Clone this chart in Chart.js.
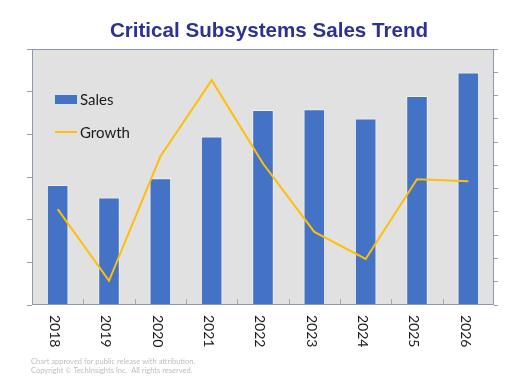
<!DOCTYPE html>
<html>
<head>
<meta charset="utf-8">
<script src="https://cdn.jsdelivr.net/npm/chart.js@4.4.1/dist/chart.umd.min.js"></script>
<style>
html,body{margin:0;padding:0;background:#fff;}
#wrap{width:520px;height:387px;position:relative;}
</style>
</head>
<body>
<div id="wrap"><canvas id="c" width="520" height="387"></canvas></div>
<script>
const categories = ['2018','2019','2020','2021','2022','2023','2024','2025','2026'];
const sales = [2.81, 2.52, 2.97, 3.95, 4.57, 4.59, 4.37, 4.90, 5.45];
const growth = [5.6, -9.8, 16.9, 33.3, 15.4, 0.7, -5.1, 12.0, 11.6];
const salesTicks = [0, 1, 2, 3, 4, 5, 6];
const growthTicks = [-15, -10, -5, 0, 5, 10, 15, 20, 25, 30, 35, 40];
const titleText = 'Critical Subsystems Sales Trend';
const footerLines = ['Chart approved for public release with attribution.', 'Copyright \u00A9 TechInsights Inc.  All rights reserved.'];

const BAR = '#4472C4', LINE = '#FFBE0A';

const deco = {
  id: 'deco',
  beforeDraw(chart) {
    const {ctx, chartArea: a} = chart;
    ctx.save();
    ctx.fillStyle = '#E1E1E1';
    ctx.fillRect(a.left, a.top, a.right - a.left, a.bottom - a.top);
    ctx.restore();
  },
  afterDatasetsDraw(chart) {
    const {ctx, chartArea: a, scales} = chart;
    const x = scales.x;
    ctx.save();
    ctx.strokeStyle = '#A8A8A8';
    ctx.lineWidth = 1;
    for (let i = 0; i < categories.length - 1; i++) {
      const px = Math.round((x.getPixelForValue(i) + x.getPixelForValue(i + 1)) / 2) + 0.5;
      ctx.beginPath(); ctx.moveTo(px, a.bottom - 6); ctx.lineTo(px, a.bottom); ctx.stroke();
    }
    ctx.strokeStyle = '#8D98AE';
    ctx.strokeRect(Math.round(a.left) + 0.5, Math.round(a.top) + 0.5, Math.round(a.right - a.left) - 1, Math.round(a.bottom - a.top) - 1);
    ctx.fillStyle = '#1A1A1A';
    ctx.font = '14px Lato';
    ctx.textAlign = 'left';
    ctx.textBaseline = 'middle';
    categories.forEach((c, i) => {
      const px = x.getPixelForValue(i) - 3;
      ctx.save();
      ctx.translate(px, a.bottom + 10);
      ctx.rotate(Math.PI / 2);
      ctx.fillText(c, 0, 0);
      ctx.restore();
    });
    const ds = chart.data.datasets;
    ctx.font = '15px Lato';
    ctx.fillStyle = BAR;
    ctx.fillRect(55, 95, 22, 9);
    ctx.fillStyle = '#1A1A1A';
    ctx.fillText(ds[1].label, 80, 100);
    ctx.strokeStyle = LINE; ctx.lineWidth = 2;
    ctx.beginPath(); ctx.moveTo(55, 132); ctx.lineTo(77, 132); ctx.stroke();
    ctx.fillStyle = '#1A1A1A';
    ctx.fillText(ds[0].label, 80, 133);
    ctx.font = 'bold 20.6px "Liberation Sans", Arial';
    ctx.fillStyle = '#2E3192';
    ctx.textAlign = 'center';
    ctx.fillText(titleText, 269, 31);
    ctx.font = '7.5px Lato';
    ctx.fillStyle = '#BDBDBD';
    ctx.textAlign = 'left';
    ctx.fillText(footerLines[0], 31, 362);
    ctx.fillText(footerLines[1], 31, 371);
    ctx.restore();
  }
};

new Chart(document.getElementById('c'), {
  data: {
    labels: categories,
    datasets: [
      {type: 'line', label: 'Growth', data: growth, yAxisID: 'y2', borderColor: LINE, borderWidth: 2, pointRadius: 0, tension: 0, order: 0},
      {type: 'bar', label: 'Sales', data: sales, yAxisID: 'y', backgroundColor: BAR, borderColor: '#F2F2F2', borderWidth: 1, barPercentage: 0.42, categoryPercentage: 1, order: 1}
    ]
  },
  options: {
    responsive: false,
    animation: false,
    layout: {padding: {left: 27, right: 22, top: 49, bottom: 82}},
    plugins: {legend: {display: false}, title: {display: false}, tooltip: {enabled: false}},
    scales: {
      x: {display: false, offset: true},
      y: {
        position: 'left', min: salesTicks[0], max: salesTicks[salesTicks.length - 1],
        afterBuildTicks: s => { s.ticks = salesTicks.map(v => ({value: v})); },
        ticks: {display: false},
        border: {display: false},
        grid: {drawOnChartArea: false, drawTicks: true, tickLength: 5, tickColor: '#A0A0A0'}
      },
      y2: {
        position: 'right', min: growthTicks[0], max: growthTicks[growthTicks.length - 1],
        afterBuildTicks: s => { s.ticks = growthTicks.map(v => ({value: v})); },
        ticks: {display: false},
        border: {display: false},
        grid: {drawOnChartArea: false, drawTicks: true, tickLength: 4, tickColor: '#A0A0A0'}
      }
    }
  },
  plugins: [deco]
});
</script>
</body>
</html>
